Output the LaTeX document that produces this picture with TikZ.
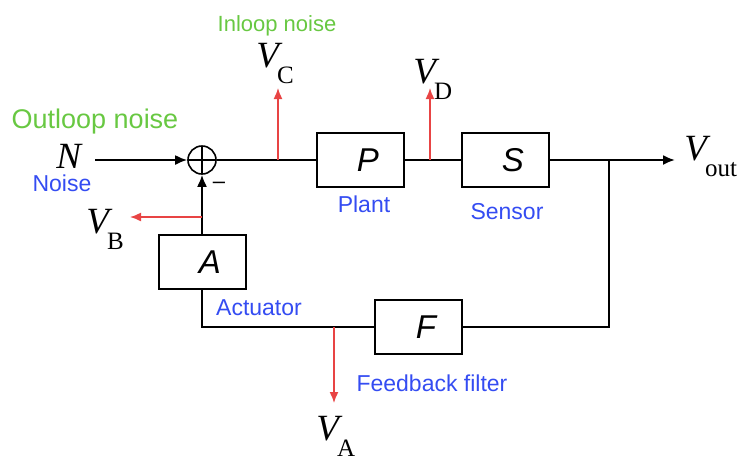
\documentclass[tikz,border=0pt]{standalone}
\usepackage{fontspec}
\setmainfont{Liberation Serif}
\setsansfont{Liberation Sans}
\usepackage{xcolor}
\usetikzlibrary{arrows.meta, positioning}

\definecolor{noisegreen}{RGB}{104,200,66}
\definecolor{nameblue}{RGB}{52,76,242}
\definecolor{tapred}{RGB}{232,68,68}

% V with an upright subscript
\newcommand{\vsig}[1]{{\fontsize{18.5}{18.5}\selectfont\itshape V}\kern-1pt\raisebox{-8pt}{\fontsize{12.5}{12.5}\selectfont #1}}

\begin{document}
\begin{tikzpicture}[x=0.5pt, y=-0.5pt, >={Latex[length=6pt,width=5pt]},
    block/.style={draw, line width=1pt, minimum width=43.5pt, minimum height=27pt, inner sep=0pt,
        font=\sffamily\itshape\fontsize{16.5}{16.5}\selectfont, execute at begin node=\hspace*{8pt}},
    sum/.style={draw, circle, line width=0.8pt, minimum size=14pt, inner sep=0pt,
        path picture={\draw[line width=0.8pt] (path picture bounding box.north) -- (path picture bounding box.south)
            (path picture bounding box.west) -- (path picture bounding box.east);}},
    wire/.style={line width=1pt},
    tap/.style={tapred, line width=0.75pt, -{Latex[length=5.5pt,width=4.5pt]}},
    sig/.style={inner sep=0pt, anchor=base west},
    noisetxt/.style={text=noisegreen, font=\sffamily\fontsize{13.5}{13.5}\selectfont},
    nametxt/.style={text=nameblue, font=\sffamily\fontsize{11.5}{11.5}\selectfont}]

    \useasboundingbox (0,0) rectangle (740,463);

    % summing point and blocks
    \node[sum] (sum) at (202,160) {};
    \node[block] (plant) at (360,160) {P};
    \node[block] (sensor) at (505,160) {S};
    \node[block] (act) at (202,262) {A};
    \node[block] (filt) at (418,327) {F};
    \node[font=\sffamily\fontsize{11}{11}\selectfont] (minus) at (219,185) {--};

    % signal names
    \node[sig] (nin) at (56,168) {\fontsize{18.5}{18.5}\selectfont\itshape N};
    \node[sig] (vb) at (86,233) {\vsig{B}};
    \node[sig] (vc) at (256,67) {\vsig{C}};
    \node[sig] (vd) at (413,83) {\vsig{D}};
    \node[sig] (va) at (316,440) {\vsig{A}};
    \node[sig] (vout) at (684,160) {\vsig{out}};

    % coloured captions
    \node[noisetxt] (outloop) at (95,122) {Outloop noise};
    \node[noisetxt, font=\sffamily\fontsize{11}{11}\selectfont] (inloop) at (277,26) {Inloop noise};
    \node[nametxt] (noise) at (62,183) {Noise};
    \node[nametxt] (plantname) at (364,204) {Plant};
    \node[nametxt] (sensorname) at (507,212) {Sensor};
    \node[nametxt] (actname) at (259,308) {Actuator};
    \node[nametxt] (filtname) at (432,383) {Feedback filter};

    % branch points and free ends of the taps
    \coordinate (jc) at (278,160);
    \coordinate (jd) at (430,160);
    \coordinate (jout) at (609,160);
    \coordinate (jb) at (202,217);
    \coordinate (ja) at (334,327);
    \coordinate (vcend) at (278,88);
    \coordinate (vdend) at (430,88);
    \coordinate (vbend) at (130,217);
    \coordinate (vaend) at (334,403);

    % forward path
    \draw[wire, ->, shorten <=7pt] (nin.east |- sum) -- (sum);
    \draw[wire] (sum) -- (plant) (plant) -- (sensor);
    \draw[wire, ->, shorten >=4.5pt] (sensor) -- (vout.west |- sensor);

    % feedback path
    \draw[wire] (jout) |- (filt);
    \draw[wire] (filt) -| (act);
    \draw[wire, ->] (act) -- (sum);

    % measurement taps
    \draw[tap] (jc) -- (vcend);
    \draw[tap] (jd) -- (vdend);
    \draw[tap] (jb) -- (vbend);
    \draw[tap] (ja) -- (vaend);
\end{tikzpicture}
\end{document}
